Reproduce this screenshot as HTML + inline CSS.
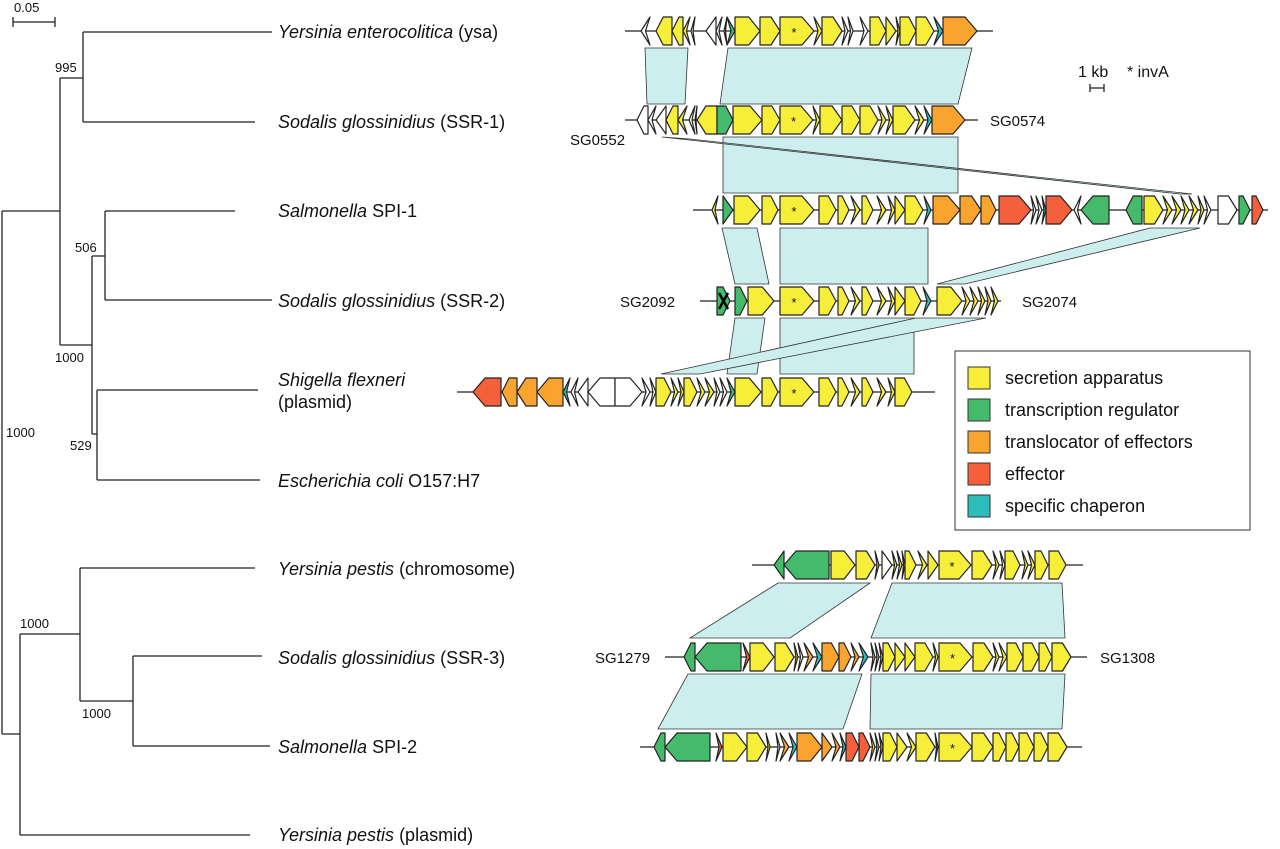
<!DOCTYPE html>
<html><head><meta charset="utf-8"><style>
body{margin:0;background:#fff}
svg{display:block}
text{font-family:"Liberation Sans",Arial,sans-serif;fill:#111}
.sp{font-size:18px}
.n{font-size:13px}
.sg{font-size:15px}
</style></head><body>
<svg id="s" width="1280" height="849" viewBox="0 0 1280 849" xmlns="http://www.w3.org/2000/svg">
<g stroke="#222" stroke-width="1.3" fill="none">
<path d="M13 17V27M13 22H55M55 17V27"/>
<path d="M83 32H272M83 32V122M83 122H255M60 78H83M60 78V345M2 211H60"/>
<path d="M105 211H235M105 211V300M105 300H272M92 256H105M92 256V434M60 345H92"/>
<path d="M97 390H258M97 390V480M97 480H260M92 434H97"/>
<path d="M2 211V734M2 734H20M20 634V835M20 835H250M20 634H80M80 568V701M80 568H255M80 701H133M133 656V746M133 656H262M133 746H270"/>
</g>
<g class="n">
<text x="14" y="12">0.05</text>
<text x="55" y="72">995</text>
<text x="75" y="252">506</text>
<text x="55" y="362">1000</text>
<text x="70" y="450">529</text>
<text x="6" y="437">1000</text>
<text x="20" y="628">1000</text>
<text x="82" y="718">1000</text>
</g>
<g class="sp">
<text x="278" y="38"><tspan font-style="italic">Yersinia enterocolitica</tspan> (ysa)</text>
<text x="278" y="128"><tspan font-style="italic">Sodalis glossinidius</tspan> (SSR-1)</text>
<text x="278" y="217"><tspan font-style="italic">Salmonella</tspan> SPI-1</text>
<text x="278" y="307"><tspan font-style="italic">Sodalis glossinidius</tspan> (SSR-2)</text>
<text x="278" y="386"><tspan font-style="italic">Shigella flexneri</tspan></text>
<text x="278" y="408">(plasmid)</text>
<text x="278" y="487"><tspan font-style="italic">Escherichia coli</tspan> O157:H7</text>
<text x="278" y="575"><tspan font-style="italic">Yersinia pestis</tspan> (chromosome)</text>
<text x="278" y="664"><tspan font-style="italic">Sodalis glossinidius</tspan> (SSR-3)</text>
<text x="278" y="753"><tspan font-style="italic">Salmonella</tspan> SPI-2</text>
<text x="278" y="841"><tspan font-style="italic">Yersinia pestis</tspan> (plasmid)</text>
</g>
<g class="sg">
<text x="570" y="145">SG0552</text>
<text x="990" y="126">SG0574</text>
<text x="620" y="307">SG2092</text>
<text x="1022" y="307">SG2074</text>
<text x="595" y="663">SG1279</text>
<text x="1100" y="663">SG1308</text>
<text x="1078" y="77" font-size="16">1 kb</text>
<text x="1127" y="77" font-size="16">* invA</text>
</g>
<path d="M1090 84V92M1090 88H1104M1104 84V92" stroke="#222" stroke-width="1.3"/>
<g id="syn" fill="#cdeeee" stroke="#333" stroke-width="0.8"></g>
<g id="lines" stroke="#222" stroke-width="1.3"></g>
<g id="genes" stroke="#222" stroke-width="1.2" stroke-linejoin="round"></g>
<g id="stars" font-size="13" text-anchor="middle"></g>
<rect x="955" y="351" width="295" height="179" fill="#fff" stroke="#333" stroke-width="1"/>
<g stroke="#333" stroke-width="1">
<rect x="968" y="367" width="22" height="22" fill="#f7ee3a"/>
<rect x="968" y="399" width="22" height="22" fill="#44bb6a"/>
<rect x="968" y="431" width="22" height="22" fill="#f9a42f"/>
<rect x="968" y="463" width="22" height="22" fill="#f4603c"/>
<rect x="968" y="495" width="22" height="22" fill="#2ebdbb"/>
</g>
<g font-size="18">
<text x="1005" y="384">secretion apparatus</text>
<text x="1005" y="416">transcription regulator</text>
<text x="1005" y="448">translocator of effectors</text>
<text x="1005" y="480">effector</text>
<text x="1005" y="512">specific chaperon</text>
</g>
</svg>
<script>
var C={y:"#f7ee3a",g:"#44bb6a",o:"#f9a42f",r:"#f4603c",c:"#2ebdbb",w:"#ffffff"};
var NS="http://www.w3.org/2000/svg";
function el(p,t,a){var e=document.createElementNS(NS,t);for(var k in a)e.setAttribute(k,a[k]);document.getElementById(p).appendChild(e);return e;}
var rows=[
{y:31,l:[625,993],g:[[641,650,-1,"w"],[656,672,-1,"y"],[672,683,-1,"y"],[683,690,-1,"y"],[691,695,-1,"w"],[706,716,-1,"w"],[716,722,-1,"w"],[724,727,-1,"w"],[727,735,1,"g"],[735,760,1,"y"],[760,780,1,"y"],[780,814,1,"y",1],[814,822,1,"y"],[822,842,1,"y"],[842,848,1,"w"],[848,853,1,"w"],[860,868,1,"w"],[870,886,1,"y"],[886,896,1,"y"],[896,900,1,"y"],[900,916,1,"y"],[916,934,1,"y"],[934,943,1,"c"],[943,977,1,"o"]]},
{y:120,l:[625,978],g:[[637,648,-1,"w"],[648,656,-1,"w"],[656,666,-1,"w"],[666,678,-1,"y"],[678,687,-1,"y"],[689,695,-1,"w"],[695,697,-1,"w"],[697,717,-1,"y"],[717,733,1,"g"],[733,762,1,"y"],[762,780,1,"y"],[780,813,1,"y",1],[813,820,1,"y"],[820,842,1,"y"],[842,860,1,"y"],[860,878,1,"y"],[878,886,1,"y"],[886,893,1,"y"],[893,915,1,"y"],[915,924,1,"y"],[924,932,1,"c"],[932,965,1,"o"]]},
{y:210,l:[693,1268],g:[[712,718,-1,"y"],[723,733,1,"g"],[734,760,1,"y"],[762,778,1,"y"],[780,814,1,"y",1],[819,836,1,"y"],[838,849,1,"y"],[851,860,1,"y"],[862,873,1,"y"],[877,886,1,"y"],[888,895,1,"y"],[895,905,1,"y"],[905,923,1,"y"],[924,931,1,"c"],[933,960,1,"o"],[960,981,1,"o"],[981,996,1,"o"],[999,1031,1,"r"],[1031,1036,1,"w"],[1036,1042,1,"w"],[1042,1046,1,"c"],[1046,1072,1,"r"],[1074,1081,-1,"w"],[1081,1109,-1,"g"],[1126,1142,-1,"g"],[1144,1163,1,"y"],[1163,1172,1,"y"],[1172,1181,1,"y"],[1181,1189,1,"y"],[1189,1198,1,"y"],[1198,1204,1,"y"],[1204,1211,1,"w"],[1218,1237,1,"w"],[1239,1250,1,"g"],[1252,1263,1,"r"]]},
{y:301,l:[700,1001],g:[[717,730,1,"g"],[735,747,1,"g"],[748,774,1,"y"],[780,814,1,"y",1],[819,836,1,"y"],[838,849,1,"y"],[851,860,1,"y"],[862,873,1,"y"],[877,886,1,"y"],[888,895,1,"y"],[895,905,1,"y"],[905,921,1,"y"],[923,931,1,"c"],[937,962,1,"y"],[962,970,1,"y"],[970,978,1,"y"],[978,985,1,"y"],[985,991,1,"y"],[991,998,1,"y"]]},
{y:392,l:[457,935],g:[[473,501,-1,"r"],[502,517,-1,"o"],[517,537,-1,"o"],[537,563,-1,"o"],[563,570,-1,"c"],[571,578,-1,"w"],[578,588,-1,"w"],[588,615,-1,"w"],[615,642,1,"w"],[642,650,1,"w"],[650,656,1,"w"],[656,671,1,"y"],[671,678,1,"y"],[678,684,1,"y"],[684,697,1,"y"],[697,705,1,"y"],[705,714,1,"y"],[714,720,1,"w"],[720,727,1,"w"],[727,735,1,"g"],[735,761,1,"y"],[762,778,1,"y"],[780,814,1,"y",1],[819,836,1,"y"],[838,849,1,"y"],[851,860,1,"y"],[862,873,1,"y"],[877,886,1,"y"],[888,895,1,"y"],[895,912,1,"y"]]},
{y:565,l:[752,1083],g:[[774,784,-1,"g"],[784,829,-1,"g"],[831,855,1,"y"],[856,875,1,"y"],[875,879,1,"y"],[882,892,1,"w"],[892,897,1,"y"],[897,902,1,"y"],[902,905,1,"y"],[905,916,1,"y"],[918,927,1,"y"],[928,938,1,"y"],[939,971,1,"y",1],[972,992,1,"y"],[993,999,1,"y"],[1000,1005,1,"w"],[1005,1020,1,"y"],[1022,1028,1,"y"],[1028,1035,1,"y"],[1035,1048,1,"y"],[1049,1066,1,"y"]]},
{y:657,l:[665,1087],g:[[684,695,-1,"g"],[695,741,-1,"g"],[743,750,1,"r"],[750,774,1,"y"],[775,794,1,"y"],[794,798,1,"y"],[798,803,1,"w"],[804,813,1,"o"],[813,822,1,"c"],[822,839,1,"o"],[839,851,1,"o"],[851,859,1,"o"],[859,868,1,"c"],[871,875,1,"y"],[875,879,1,"y"],[879,883,1,"y"],[883,895,1,"y"],[895,905,1,"y"],[905,915,1,"y"],[915,933,1,"y"],[933,938,1,"y"],[939,972,1,"y",1],[973,993,1,"y"],[993,999,1,"y"],[999,1007,1,"y"],[1007,1023,1,"y"],[1023,1039,1,"y"],[1039,1052,1,"y"],[1052,1071,1,"y"]]},
{y:747,l:[640,1082],g:[[654,665,-1,"g"],[665,710,-1,"g"],[716,722,1,"r"],[723,747,1,"y"],[747,766,1,"y"],[766,770,1,"y"],[776,780,1,"w"],[780,789,1,"o"],[789,797,1,"c"],[797,822,1,"o"],[822,832,1,"o"],[832,840,1,"o"],[840,846,1,"c"],[846,859,1,"r"],[859,870,1,"r"],[870,875,1,"y"],[875,879,1,"y"],[879,883,1,"y"],[883,897,1,"y"],[897,907,1,"y"],[907,916,1,"y"],[916,935,1,"y"],[935,938,1,"y"],[939,972,1,"y",1],[972,993,1,"y"],[993,1006,1,"y"],[1006,1019,1,"y"],[1019,1034,1,"y"],[1034,1048,1,"y"],[1048,1067,1,"y"]]}
];
var H=14;
rows.forEach(function(r){
 el("lines","line",{x1:r.l[0],x2:r.l[1],y1:r.y,y2:r.y});
 r.g.forEach(function(g){
  var a=g[0],b=g[1],d=g[2],w=b-a,y=r.y,p;
  var h=w>10?Math.min(12,Math.max(7,w*0.45)):w;
  var nt=w<=9?h*0.5:0;
  if(d>0)p=[[a,y-H],[b-h,y-H],[b,y],[b-h,y+H],[a,y+H],[a+nt,y]];
  else p=[[b,y-H],[a+h,y-H],[a,y],[a+h,y+H],[b,y+H],[b-nt,y]];
  el("genes","polygon",{points:p.map(function(q){return q.join(",")}).join(" "),fill:C[g[3]]});
  if(g[4]){var t=el("stars","text",{x:(a+b)/2-3,y:y+6});t.textContent="*";}
 });
});
var syn=[
[[645,48],[688,48],[685,104],[647,104]],
[[728,48],[972,48],[958,104],[720,104]],
[[723,137],[958,137],[958,193],[723,193]],
[[662,137],[690,139],[1192,194],[1180,194]],
[[722,228],[757,228],[769,284],[735,284]],
[[780,228],[928,228],[928,284],[780,284]],
[[1150,228],[1200,228],[965,284],[937,284]],
[[735,318],[765,318],[757,374],[727,374]],
[[780,318],[914,318],[914,374],[780,374]],
[[916,318],[986,318],[700,374],[661,374]],
[[778,583],[870,583],[790,638],[690,638]],
[[892,583],[1062,583],[1065,638],[871,638]],
[[688,674],[862,674],[843,729],[658,729]],
[[871,674],[1065,674],[1062,729],[870,729]]
];
syn.forEach(function(p){el("syn","polygon",{points:p.map(function(q){return q.join(",")}).join(" ")});});
el("genes","path",{d:"M719 293L728 309M728 293L719 309",stroke:"#000","stroke-width":2.5});
</script>
</body></html>
